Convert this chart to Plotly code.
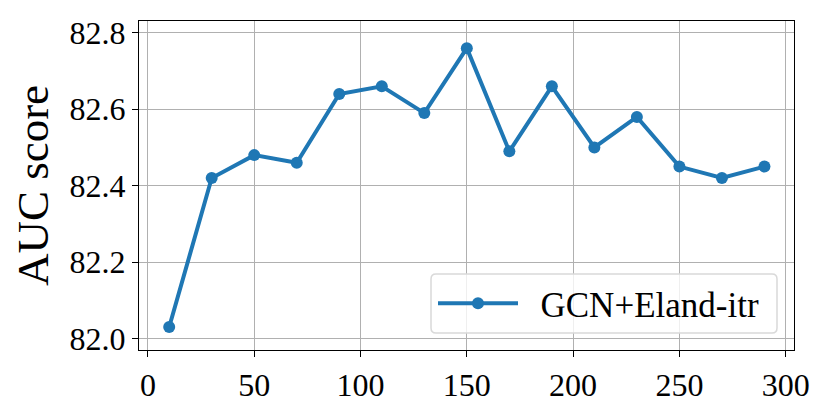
import plotly.graph_objects as go

# data
x_values = [10, 30, 50, 70, 90, 110, 130, 150, 170, 190, 210, 230, 250, 270, 290]
auc_values = [82.03, 82.42, 82.48, 82.46, 82.64, 82.66, 82.59, 82.76,
              82.49, 82.66, 82.50, 82.58, 82.45, 82.42, 82.45]
series_name = "GCN+Eland-itr"
x_ticks = [0, 50, 100, 150, 200, 250, 300]
y_ticks = [82.0, 82.2, 82.4, 82.6, 82.8]

FONT = "Liberation Serif"
BLUE = "#1f77b4"
GRID = "#b0b0b0"
# page body has an 8px margin, so the figure is a bit smaller than the window
OFF = 8
W, H = 830 - 2 * OFF, 415 - 2 * OFF
# plot area in window pixels (left, right, top, bottom)
pl, pr, pt, pb = 139, 794, 21, 350

fig = go.Figure()
fig.add_trace(go.Scatter(
    x=x_values, y=auc_values, mode="lines+markers", name=series_name,
    line=dict(color=BLUE, width=4),
    marker=dict(color=BLUE, size=12),
))

axis_common = dict(
    showline=True, mirror=True, linecolor="black", linewidth=1.3,
    showgrid=True, gridcolor=GRID, gridwidth=1.2, automargin=False,
    zeroline=False, ticks="outside", ticklen=6, tickwidth=1.3, tickcolor="black",
    tickfont=dict(family=FONT, size=32, color="black"),
)

fig.update_xaxes(range=[-4.2, 303.9], tickvals=x_ticks, **axis_common)
fig.update_yaxes(
    range=[81.970, 82.831], tickvals=y_ticks, tickformat=".1f",
    title=dict(text="AUC score", font=dict(family=FONT, size=45, color="black"), standoff=16),
    **axis_common,
)

# rounded legend frame like matplotlib (domain coords)
def dx(x): return (x - pl) / (pr - pl)
def dy(y): return (pb - y) / (pb - pt)
x0, x1, y0, y1, r = 431, 777, 274, 333, 5
path = (f"M {dx(x0+r)},{dy(y0)} L {dx(x1-r)},{dy(y0)} Q {dx(x1)},{dy(y0)} {dx(x1)},{dy(y0+r)} "
        f"L {dx(x1)},{dy(y1-r)} Q {dx(x1)},{dy(y1)} {dx(x1-r)},{dy(y1)} L {dx(x0+r)},{dy(y1)} "
        f"Q {dx(x0)},{dy(y1)} {dx(x0)},{dy(y1-r)} L {dx(x0)},{dy(y0+r)} Q {dx(x0)},{dy(y0)} {dx(x0+r)},{dy(y0)} Z")
fig.add_shape(type="path", path=path, xref="x domain", yref="y domain",
              line=dict(color="#d9d9d9", width=1.5), fillcolor="rgba(255,255,255,0.8)",
              layer="above")

fig.update_layout(
    width=W, height=H,
    margin=dict(l=pl - OFF, r=W - (pr - OFF), t=pt - OFF, b=H - (pb - OFF), autoexpand=False),
    paper_bgcolor="white", plot_bgcolor="white",
    font=dict(family=FONT, color="black"),
    showlegend=True,
    legend=dict(
        x=dx(x0 + 2), y=dy((y0 + y1) / 2), xanchor="left", yanchor="middle",
        bgcolor="rgba(0,0,0,0)", borderwidth=0,
        font=dict(family=FONT, size=35, color="black"),
        itemwidth=80,
    ),
)
# extra gap between legend symbol and label
fig.data[0].name = "\u00a0\u00a0" + series_name

fig.write_html("out.html")
